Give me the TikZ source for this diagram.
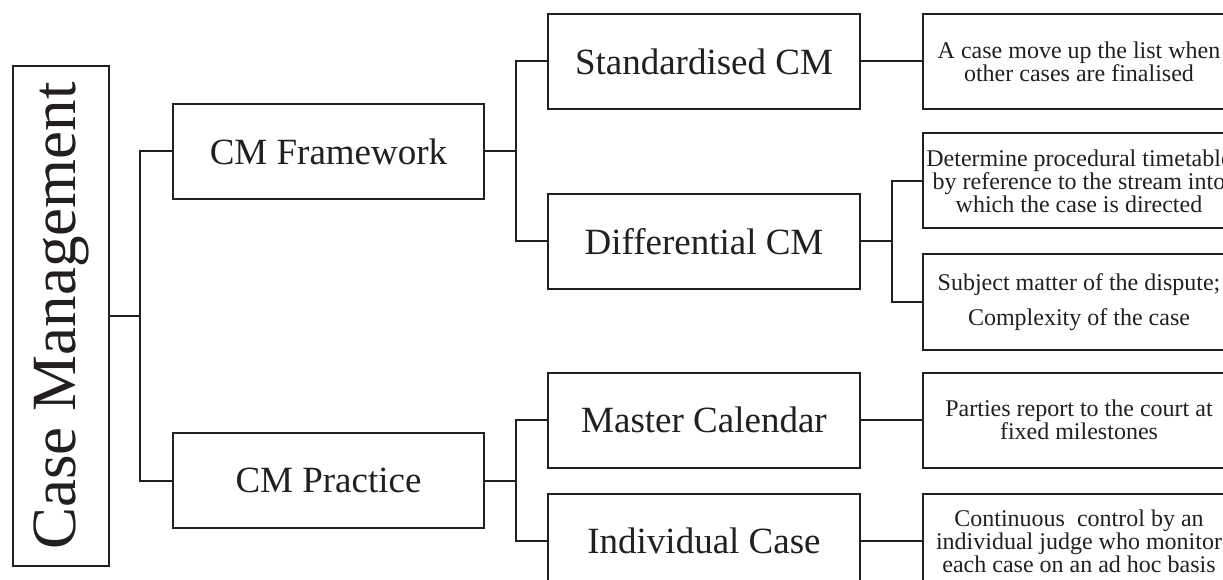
\documentclass[tikz,border=0pt]{standalone}
\usepackage{fontspec}
\setmainfont{Liberation Serif}
\usepackage{graphicx}
\usetikzlibrary{positioning}
\definecolor{ink}{HTML}{231F20}

\begin{document}
\begin{tikzpicture}[
  x=1pt, y=1pt,
  color=ink, line width=2pt,
  rootbox/.style={draw, minimum width=96pt, minimum height=500pt, inner sep=0pt, font=\fontsize{63}{70}\selectfont},
  mainbox/.style={draw, minimum width=311pt, minimum height=95pt, inner sep=0pt, font=\fontsize{37}{40}\selectfont},
  subbox/.style={mainbox, minimum width=312pt},
  notebox/.style={draw, minimum width=312pt, minimum height=95pt, inner sep=0pt, align=center, font=\fontsize{24}{21.5}\selectfont}
]
\useasboundingbox (0,0) rectangle (1223,579);

% ROOT
\node[rootbox] (root) at (61,263) {\rotatebox{90}{Case Management}};

% FIRST LEVEL
\node[mainbox, above right=116pt and 62pt of root.east] (frame) {CM Framework};
\node[mainbox, below right=116pt and 62pt of root.east] (practice) {CM Practice};

\draw (root.east) -- ++(30,0) coordinate (rootfork);
\draw (frame.west) -| (rootfork) |- (practice.west);

% SECOND LEVEL
\node[subbox, above right=41.5pt and 62pt of frame.east] (std) {Standardised CM};
\node[subbox, below right=41.5pt and 62pt of frame.east] (diff) {Differential CM};
\node[subbox, above right=12pt and 62pt of practice.east] (master) {Master Calendar};
\node[subbox, below right=12pt and 62pt of practice.east] (indiv) {Individual Case};

\draw (frame.east) -- ++(31,0) coordinate (framefork);
\draw (std.west) -| (framefork) |- (diff.west);
\draw (practice.east) -- ++(31,0) coordinate (practicefork);
\draw (master.west) -| (practicefork) |- (indiv.west);

% NOTES
\node[notebox, right=61pt of std] (finalised) {A case move up the list when\\other cases are finalised};
\node[notebox, above right=12pt and 61pt of diff.east] (timetable) {Determine procedural timetable\\by reference to the stream into\\which the case is directed};
\node[notebox, below right=12pt and 61pt of diff.east] (subject) {Subject matter of the dispute;\\[12pt]Complexity of the case};
\node[notebox, right=61pt of master] (milestones) {Parties report to the court at\\fixed milestones};
\node[notebox, right=61pt of indiv] (judge) {Continuous~ control by an\\individual judge who monitor\\each case on an ad hoc basis};

\draw (std.east) -- (finalised.west);
\draw (diff.east) -- ++(31,0) coordinate (difffork);
\draw (timetable.west) -| (difffork) |- (subject.west);
\draw (master.east) -- (milestones.west);
\draw (indiv.east) -- (judge.west);

\end{tikzpicture}
\end{document}
